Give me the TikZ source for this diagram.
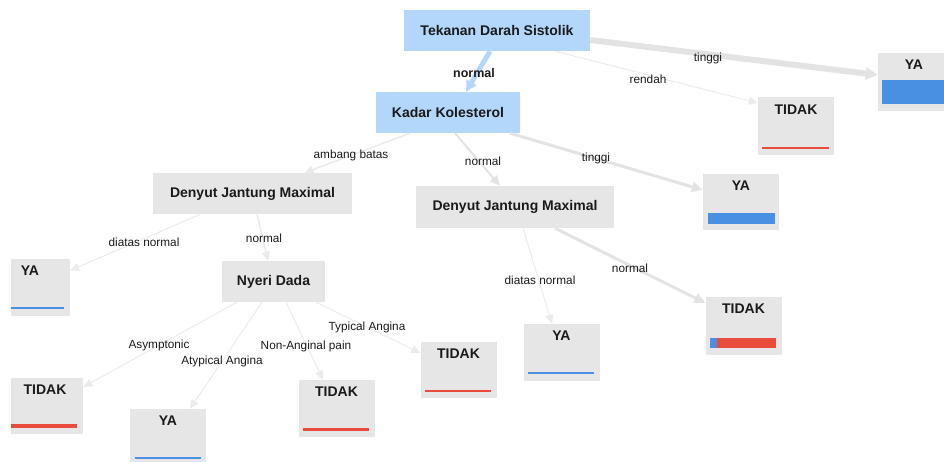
\documentclass[tikz,border=0pt]{standalone}
\usepackage{fontspec}
\setmainfont{Liberation Sans}
\usetikzlibrary{arrows.meta,calc}
\definecolor{nodeblue}{HTML}{B3D7FB}
\definecolor{boxgray}{HTML}{E6E6E6}
\definecolor{edgegray}{HTML}{E3E3E3}
\definecolor{thingray}{HTML}{EBEBEB}
\definecolor{barblue}{HTML}{4A90E2}
\definecolor{barred}{HTML}{E94B3C}
\definecolor{txt}{HTML}{1A1A1A}
\begin{document}
\begin{tikzpicture}[x=1pt,y=-1pt,
  inner/.style={fill=nodeblue, inner sep=0pt, minimum height=41pt, text=txt, font=\bfseries\fontsize{14}{16}\selectfont},
  decbox/.style={fill=boxgray, inner sep=0pt, minimum height=41pt, text=txt, font=\bfseries\fontsize{14}{16}\selectfont},
  leaf/.style={fill=boxgray, inner sep=0pt, minimum width=76pt, minimum height=57pt},
  ttl/.style={inner sep=0pt, text=txt, font=\bfseries\fontsize{14}{16}\selectfont},
  lbl/.style={inner sep=1pt, text=txt, font=\fontsize{11.8}{13}\selectfont},
  boldlbl/.style={inner sep=1pt, text=txt, font=\bfseries\fontsize{12.5}{14}\selectfont},
  conn/.style={draw=thingray, line width=1pt, -{Triangle[length=9pt,width=8pt]}},
  connmid/.style={draw=edgegray, line width=2pt, -{Triangle[length=10pt,width=9pt]}},
  connthick/.style={draw=edgegray, line width=3pt, -{Triangle[length=11pt,width=10pt]}},
  connheavy/.style={draw=edgegray, line width=6pt, -{Triangle[length=12pt,width=12pt]}},
  connblue/.style={draw=nodeblue, line width=5pt, -{Triangle[length=11pt,width=11pt]}}
]
\useasboundingbox (0,0) rectangle (944,462);
\begin{scope}
\clip (11,-5) rectangle (944,470);

% inner nodes
\node[inner, minimum width=186pt] (tds) at (497,30.5) {Tekanan Darah Sistolik};
\node[inner, minimum width=144pt] (kk) at (448,112.5) {Kadar Kolesterol};
\node[decbox, minimum width=199pt] (djm1) at (252.5,193.5) {Denyut Jantung Maximal};
\node[decbox, minimum width=198pt, minimum height=42pt] (djm2) at (515,207) {Denyut Jantung Maximal};
\node[decbox, minimum width=103pt] (nd) at (273.5,281.5) {Nyeri Dada};

% leaves
\node[leaf, minimum height=58pt] (ya1) at (916,82) {};
\node[leaf, minimum height=58pt] (tidak1) at (796,126) {};
\node[leaf, minimum height=56pt] (ya2) at (741,202) {};
\node[leaf] (ya3) at (32,287.5) {};
\node[leaf, minimum height=56pt] (tidak2) at (45,406) {};
\node[leaf, minimum height=56pt] (ya4) at (168,437) {};
\node[leaf] (tidak3) at (336.5,408.5) {};
\node[leaf, minimum height=56pt] (tidak4) at (458.5,370) {};
\node[leaf] (ya5) at (561.5,352.5) {};
\node[leaf, minimum height=58pt] (tidak5) at (743.5,326) {};

% leaf titles
\node[ttl] (ya1t) at ($(ya1.north)+(-2,12)$) {YA};
\node[ttl] (tidak1t) at ($(tidak1.north)+(0,13)$) {TIDAK};
\node[ttl] (ya2t) at ($(ya2.north)+(0,12)$) {YA};
\node[ttl] (ya3t) at ($(ya3.north)+(-2,12)$) {YA};
\node[ttl] (tidak2t) at ($(tidak2.north)+(0,12)$) {TIDAK};
\node[ttl] (ya4t) at ($(ya4.north)+(0,12)$) {YA};
\node[ttl] (tidak3t) at ($(tidak3.north)+(0,12)$) {TIDAK};
\node[ttl] (tidak4t) at ($(tidak4.north)+(0,12)$) {TIDAK};
\node[ttl] (ya5t) at ($(ya5.north)+(0,12)$) {YA};
\node[ttl] (tidak5t) at ($(tidak5.north)+(0,12)$) {TIDAK};

% bars
\fill[barblue] (882,80) rectangle (952,104);
\fill[barred] (762,147.4) rectangle (829,148.8);
\fill[barblue] (708,213) rectangle (775,224);
\fill[barblue] (5,307) rectangle (64,309);
\fill[barred] (5,424) rectangle (77,428);
\fill[barblue] (135,457) rectangle (201,459);
\fill[barred] (303,427.5) rectangle (369,430.5);
\fill[barred] (425,390.3) rectangle (491,391.7);
\fill[barblue] (528,372) rectangle (594,374);
\fill[barblue] (710,338) rectangle (717,348);
\fill[barred] (717,338) rectangle (776,348);

% connectors
\draw[connheavy] ($(tds.east)+(0,9.5)$) -- ($(ya1.west)+(0,-7)$);
\draw[conn] ($(tds.south)+(58,0)$) -- ($(tidak1.west)+(0,-23)$);
\draw[connblue] ($(tds.south)+(-7,0)$) -- ($(kk.north)+(18,0)$);
\draw[conn, line width=1.5pt] ($(kk.south)+(-38,0)$) -- ($(djm1.north)+(52,0)$);
\draw[connmid] ($(kk.south)+(7,0)$) -- ($(djm2.north)+(-15,0)$);
\draw[connthick] ($(kk.south)+(62,0)$) -- ($(ya2.west)+(0,-12)$);
\draw[conn] ($(djm1.south)+(-52,0)$) -- ($(ya3.east)+(0,-17)$);
\draw[conn, line width=1.5pt] ($(djm1.south)+(4.5,0)$) -- ($(nd.north)+(-5.5,0)$);
\draw[conn] ($(nd.south)+(-36.5,0)$) -- ($(tidak2.east)+(0,-19)$);
\draw[conn] ($(nd.south)+(-11.5,0)$) -- ($(ya4.north)+(22,0)$);
\draw[conn] ($(nd.south)+(12.5,0)$) -- ($(tidak3.north)+(-13.5,0)$);
\draw[conn] ($(nd.south)+(42.5,0)$) -- ($(tidak4.west)+(0,-17)$);
\draw[conn] ($(djm2.south)+(8,0)$) -- ($(ya5.north)+(-9.5,0)$);
\draw[connthick] ($(djm2.south)+(40,0)$) -- ($(tidak5.west)+(0,-23)$);

% connector labels
\node[boldlbl] (l0) at (474,73) {normal};
\node[lbl] (l1) at (708,58) {tinggi};
\node[lbl] (l2) at (648,79) {rendah};
\node[lbl] (l3) at (351,155) {ambang batas};
\node[lbl] (l4) at (483,161) {normal};
\node[lbl] (l5) at (596,158) {tinggi};
\node[lbl] (l6) at (144,242) {diatas normal};
\node[lbl] (l7) at (264,238) {normal};
\node[lbl] (l8) at (159,345) {Asymptonic};
\node[lbl] (l9) at (222,361) {Atypical Angina};
\node[lbl] (l10) at (306,346) {Non-Anginal pain};
\node[lbl] (l11) at (367,327) {Typical Angina};
\node[lbl] (l12) at (540,280) {diatas normal};
\node[lbl] (l13) at (630,268) {normal};
\end{scope}
\end{tikzpicture}
\end{document}
